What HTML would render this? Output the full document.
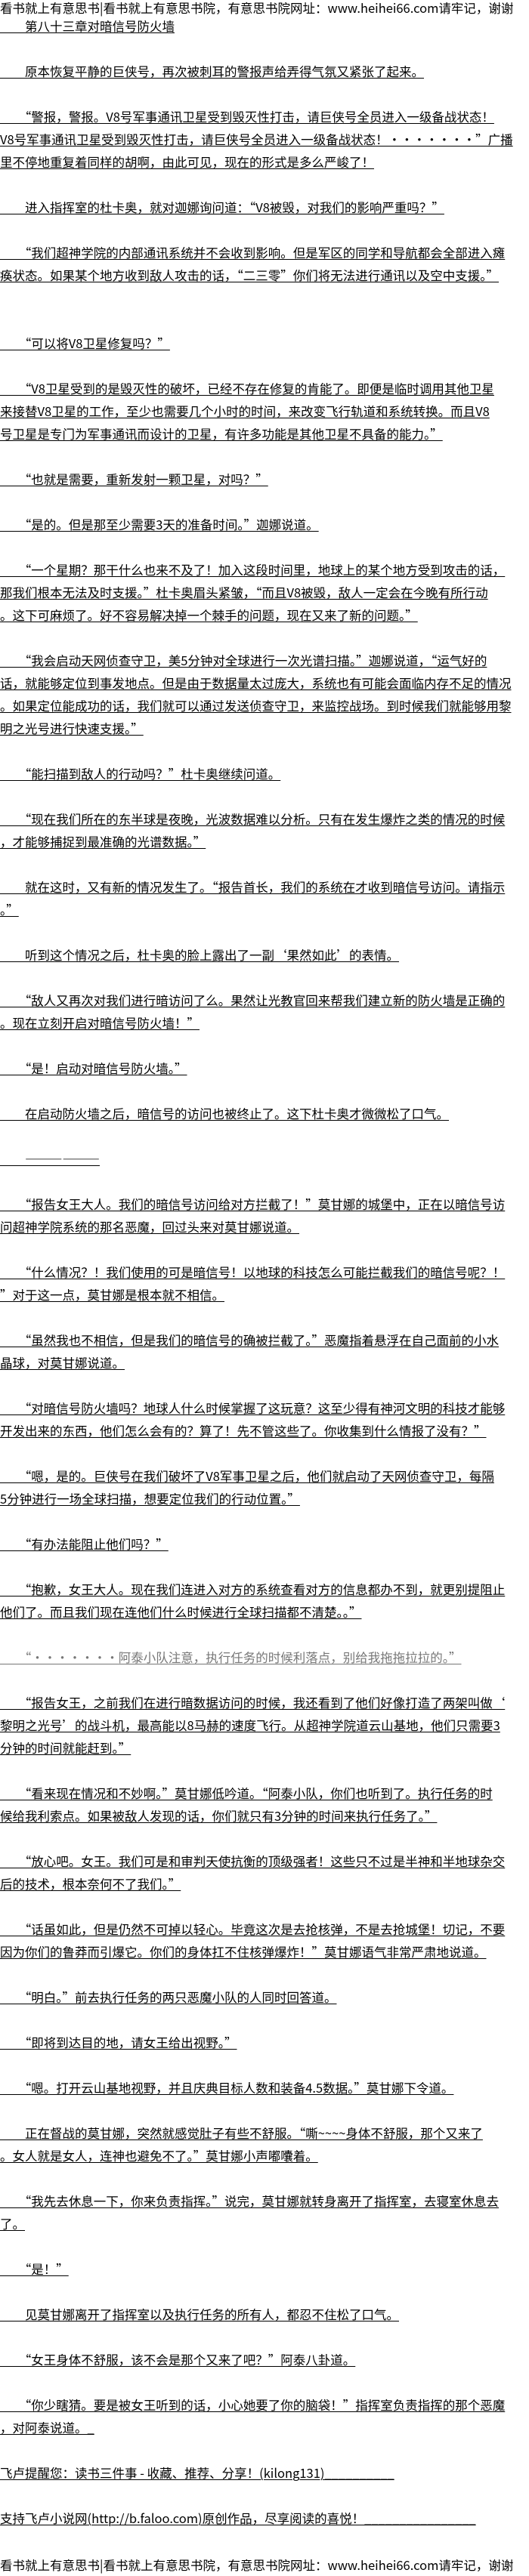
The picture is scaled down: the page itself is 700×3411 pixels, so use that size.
<!DOCTYPE html>
<html><head><meta charset="utf-8">
<style>
html,body{margin:0;padding:0;background:#fff;}
body{width:700px;height:3410px;position:relative;overflow:hidden;
font-family:"Noto Sans CJK SC","Liberation Sans","WenQuanYi Zen Hei",sans-serif;font-size:16.5px;color:#000;}
.l{position:absolute;left:0;height:30px;line-height:30px;white-space:nowrap;text-decoration:underline;text-decoration-thickness:1px;text-underline-offset:2px;}
.h{position:absolute;left:0;height:30px;line-height:30px;white-space:nowrap;width:700px;overflow:hidden;}
</style></head><body>
<div class="h" style="top:-5px">看书就上有意思书|看书就上有意思书院，有意思书院网址：www.heihei66.com请牢记，谢谢</div>
<div class="l" style="top:19px">　　第八十三章对暗信号防火墙</div>
<div class="l" style="top:79px">　　原本恢复平静的巨侠号，再次被刺耳的警报声给弄得气氛又紧张了起来。</div>
<div class="l" style="top:139px">　　“警报，警报。V8号军事通讯卫星受到毁灭性打击，请巨侠号全员进入一级备战状态！</div>
<div class="l" style="top:169px">V8号军事通讯卫星受到毁灭性打击，请巨侠号全员进入一级备战状态！·······”广播</div>
<div class="l" style="top:199px">里不停地重复着同样的胡啊，由此可见，现在的形式是多么严峻了！</div>
<div class="l" style="top:259px">　　进入指挥室的杜卡奥，就对迦娜询问道：“V8被毁，对我们的影响严重吗？”</div>
<div class="l" style="top:319px">　　“我们超神学院的内部通讯系统并不会收到影响。但是军区的同学和导航都会全部进入瘫</div>
<div class="l" style="top:349px">痪状态。如果某个地方收到敌人攻击的话，“二三零”你们将无法进行通讯以及空中支援。”</div>
<div class="l" style="top:439px">　　“可以将V8卫星修复吗？”</div>
<div class="l" style="top:499px">　　“V8卫星受到的是毁灭性的破坏，已经不存在修复的肯能了。即便是临时调用其他卫星</div>
<div class="l" style="top:529px">来接替V8卫星的工作，至少也需要几个小时的时间，来改变飞行轨道和系统转换。而且V8</div>
<div class="l" style="top:559px">号卫星是专门为军事通讯而设计的卫星，有许多功能是其他卫星不具备的能力。”</div>
<div class="l" style="top:619px">　　“也就是需要，重新发射一颗卫星，对吗？”</div>
<div class="l" style="top:679px">　　“是的。但是那至少需要3天的准备时间。”迦娜说道。</div>
<div class="l" style="top:739px">　　“一个星期？那干什么也来不及了！加入这段时间里，地球上的某个地方受到攻击的话，</div>
<div class="l" style="top:769px">那我们根本无法及时支援。”杜卡奥眉头紧皱，“而且V8被毁，敌人一定会在今晚有所行动</div>
<div class="l" style="top:799px">。这下可麻烦了。好不容易解决掉一个棘手的问题，现在又来了新的问题。”</div>
<div class="l" style="top:859px">　　“我会启动天网侦查守卫，美5分钟对全球进行一次光谱扫描。”迦娜说道，“运气好的</div>
<div class="l" style="top:889px">话，就能够定位到事发地点。但是由于数据量太过庞大，系统也有可能会面临内存不足的情况</div>
<div class="l" style="top:919px">。如果定位能成功的话，我们就可以通过发送侦查守卫，来监控战场。到时候我们就能够用黎</div>
<div class="l" style="top:949px">明之光号进行快速支援。”</div>
<div class="l" style="top:1009px">　　“能扫描到敌人的行动吗？”杜卡奥继续问道。</div>
<div class="l" style="top:1069px">　　“现在我们所在的东半球是夜晚，光波数据难以分析。只有在发生爆炸之类的情况的时候</div>
<div class="l" style="top:1099px">，才能够捕捉到最准确的光谱数据。”</div>
<div class="l" style="top:1159px">　　就在这时，又有新的情况发生了。“报告首长，我们的系统在才收到暗信号访问。请指示</div>
<div class="l" style="top:1189px">。”</div>
<div class="l" style="top:1249px">　　听到这个情况之后，杜卡奥的脸上露出了一副‘果然如此’的表情。</div>
<div class="l" style="top:1309px">　　“敌人又再次对我们进行暗访问了么。果然让光教官回来帮我们建立新的防火墙是正确的</div>
<div class="l" style="top:1339px">。现在立刻开启对暗信号防火墙！”</div>
<div class="l" style="top:1399px">　　“是！启动对暗信号防火墙。”</div>
<div class="l" style="top:1459px">　　在启动防火墙之后，暗信号的访问也被终止了。这下杜卡奥才微微松了口气。</div>
<div class="l" style="top:1519px">　　――――――</div>
<div class="l" style="top:1579px">　　“报告女王大人。我们的暗信号访问给对方拦截了！”莫甘娜的城堡中，正在以暗信号访</div>
<div class="l" style="top:1609px">问超神学院系统的那名恶魔，回过头来对莫甘娜说道。</div>
<div class="l" style="top:1669px">　　“什么情况？！我们使用的可是暗信号！以地球的科技怎么可能拦截我们的暗信号呢？！</div>
<div class="l" style="top:1699px">”对于这一点，莫甘娜是根本就不相信。</div>
<div class="l" style="top:1759px">　　“虽然我也不相信，但是我们的暗信号的确被拦截了。”恶魔指着悬浮在自己面前的小水</div>
<div class="l" style="top:1789px">晶球，对莫甘娜说道。</div>
<div class="l" style="top:1849px">　　“对暗信号防火墙吗？地球人什么时候掌握了这玩意？这至少得有神河文明的科技才能够</div>
<div class="l" style="top:1879px">开发出来的东西，他们怎么会有的？算了！先不管这些了。你收集到什么情报了没有？”</div>
<div class="l" style="top:1939px">　　“嗯，是的。巨侠号在我们破坏了V8军事卫星之后，他们就启动了天网侦查守卫，每隔</div>
<div class="l" style="top:1969px">5分钟进行一场全球扫描，想要定位我们的行动位置。”</div>
<div class="l" style="top:2029px">　　“有办法能阻止他们吗？”</div>
<div class="l" style="top:2089px">　　“抱歉，女王大人。现在我们连进入对方的系统查看对方的信息都办不到，就更别提阻止</div>
<div class="l" style="top:2119px">他们了。而且我们现在连他们什么时候进行全球扫描都不清楚。。”</div>
<div class="l" style="top:2179px;color:#777">　　“·······阿泰小队注意，执行任务的时候利落点，别给我拖拖拉拉的。”</div>
<div class="l" style="top:2239px">　　“报告女王，之前我们在进行暗数据访问的时候，我还看到了他们好像打造了两架叫做‘</div>
<div class="l" style="top:2269px">黎明之光号’的战斗机，最高能以8马赫的速度飞行。从超神学院道云山基地，他们只需要3</div>
<div class="l" style="top:2299px">分钟的时间就能赶到。”</div>
<div class="l" style="top:2359px">　　“看来现在情况和不妙啊。”莫甘娜低吟道。“阿泰小队，你们也听到了。执行任务的时</div>
<div class="l" style="top:2389px">候给我利索点。如果被敌人发现的话，你们就只有3分钟的时间来执行任务了。”</div>
<div class="l" style="top:2449px">　　“放心吧。女王。我们可是和审判天使抗衡的顶级强者！这些只不过是半神和半地球杂交</div>
<div class="l" style="top:2479px">后的技术，根本奈何不了我们。”</div>
<div class="l" style="top:2539px">　　“话虽如此，但是仍然不可掉以轻心。毕竟这次是去抢核弹，不是去抢城堡！切记，不要</div>
<div class="l" style="top:2569px">因为你们的鲁莽而引爆它。你们的身体扛不住核弹爆炸！”莫甘娜语气非常严肃地说道。</div>
<div class="l" style="top:2629px">　　“明白。”前去执行任务的两只恶魔小队的人同时回答道。</div>
<div class="l" style="top:2689px">　　“即将到达目的地，请女王给出视野。”</div>
<div class="l" style="top:2749px">　　“嗯。打开云山基地视野，并且庆典目标人数和装备4.5数据。”莫甘娜下令道。</div>
<div class="l" style="top:2809px">　　正在督战的莫甘娜，突然就感觉肚子有些不舒服。“嘶~~~~身体不舒服，那个又来了</div>
<div class="l" style="top:2839px">。女人就是女人，连神也避免不了。”莫甘娜小声嘟囔着。</div>
<div class="l" style="top:2899px">　　“我先去休息一下，你来负责指挥。”说完，莫甘娜就转身离开了指挥室，去寝室休息去</div>
<div class="l" style="top:2929px">了。</div>
<div class="l" style="top:2989px">　　“是！”</div>
<div class="l" style="top:3049px">　　见莫甘娜离开了指挥室以及执行任务的所有人，都忍不住松了口气。</div>
<div class="l" style="top:3109px">　　“女王身体不舒服，该不会是那个又来了吧？”阿泰八卦道。</div>
<div class="l" style="top:3169px">　　“你少瞎猜。要是被女王听到的话，小心她要了你的脑袋！”指挥室负责指挥的那个恶魔</div>
<div class="l" style="top:3199px">，对阿泰说道。_</div>
<div class="l" style="top:3259px">飞卢提醒您：读书三件事 - 收藏、推荐、分享！(kilong131)__________</div>
<div class="l" style="top:3319px">支持飞卢小说网(http://b.faloo.com)原创作品，尽享阅读的喜悦！________________</div>
<div class="h" style="top:3381px">看书就上有意思书|看书就上有意思书院，有意思书院网址：www.heihei66.com请牢记，谢谢</div>
</body></html>
